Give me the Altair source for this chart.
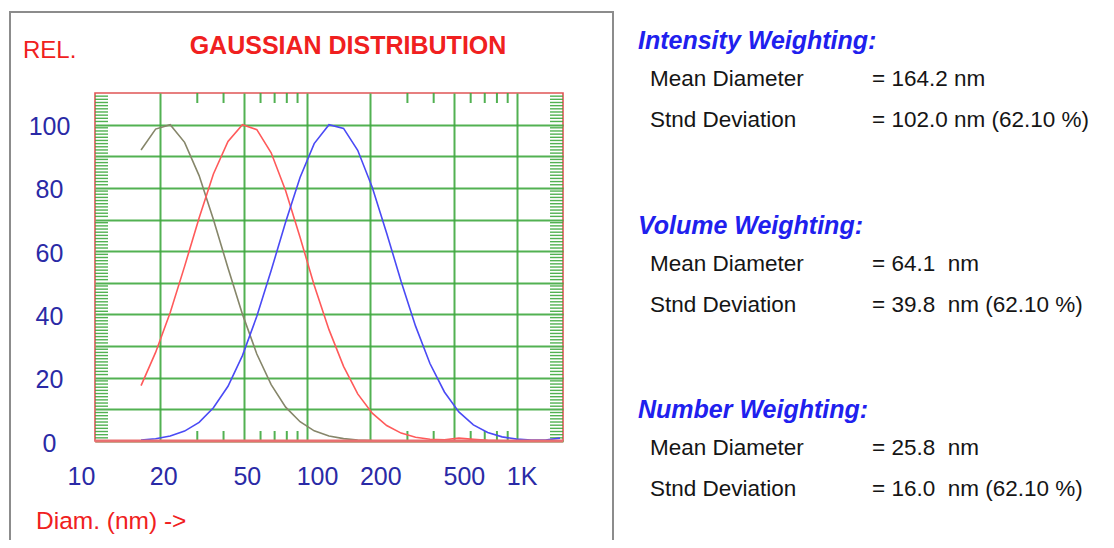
import altair as alt
import pandas as pd

# ---------------- data ----------------
diam_nm = [16.2, 19.0, 22.3, 26.1, 30.6, 35.8, 42.0, 49.2, 57.6, 67.4,
           79.0, 92.5, 108, 127, 149, 174, 204, 239, 280, 328,
           384, 450, 527, 618, 723, 847, 993, 1163, 1362, 1596]
number_rel = [92, 98.6, 100, 94.4, 83.9, 70.0, 54.7, 40.1, 27.5, 17.8,
              10.7, 6.1, 3.2, 1.6, 0.75, 0.33, 0.13, 0.05, 0.02, 0,
              0, 0, 0, 0, 0, 0, 0, 0, 0, 0]
volume_rel = [17.5, 28.0, 40.6, 55.2, 70.5, 84.4, 94.7, 100, 98.4, 91.1,
              79.1, 64.4, 49.2, 35.2, 23.6, 14.9, 8.8, 4.9, 2.5, 1.2,
              0.56, 0.4, 0.9, 0.5, 0.2, 0.1, 0, 0, 0, 0]
intensity_rel = [0.32, 0.73, 1.56, 3.13, 5.9, 10.5, 17.3, 27.0, 39.4, 53.9,
                 69.2, 83.3, 94.0, 100, 98.8, 91.9, 80.2, 65.7, 50.4, 36.3,
                 24.5, 15.5, 9.2, 5.1, 2.7, 1.3, 0.6, 0.3, 0.3, 0.9]
series_names = ["Number", "Volume", "Intensity"]

x_tick_values = [10, 20, 50, 100, 200, 500, 1000]
x_tick_labels = ["10", "20", "50", "100", "200", "500", "1K"]
x_minor_values = [30, 40, 60, 70, 80, 90, 300, 400, 600, 700, 800, 900]
y_grid_values = [0, 10, 20, 30, 40, 50, 60, 70, 80, 90, 100]
y_minor_values = [v for v in range(1, 110) if v % 10 != 0]

headings = ["Intensity Weighting:", "Volume Weighting:", "Number Weighting:"]
row_labels = ["Mean Diameter", "Stnd Deviation"]
mean_values = ["= 164.2 nm", "= 64.1\u00a0 nm", "= 25.8\u00a0 nm"]
sd_values = ["= 102.0 nm (62.10 %)", "= 39.8\u00a0 nm (62.10 %)", "= 16.0\u00a0 nm (62.10 %)"]

# ---------------- styles ----------------
FONT = "Liberation Sans, Arial, sans-serif"
GREEN = "#3fa83f"
RED = "#f02020"
AXBLUE = "#2a2aa6"
HEADBLUE = "#2020ee"
W, H = 468, 348

curves = pd.DataFrame({
    "diam": diam_nm * 3,
    "rel": number_rel + volume_rel + intensity_rel,
    "series": [series_names[0]] * len(diam_nm) + [series_names[1]] * len(diam_nm) + [series_names[2]] * len(diam_nm),
})

xscale = alt.Scale(type="log", domain=[9.78, 1650], nice=False)
yscale = alt.Scale(domain=[0, 110], nice=False)

label_expr = " : ".join(
    f"datum.value == {v} ? '{l}'" for v, l in zip(x_tick_values, x_tick_labels)
) + " : ''"

xaxis = alt.Axis(
    values=x_tick_values, labelExpr=label_expr, title=None, domain=False,
    ticks=False, tickSize=0, grid=True, gridColor=GREEN, gridWidth=2,
    gridOpacity={"condition": {"test": "datum.value == 10", "value": 0}, "value": 0.9},
    labelFont=FONT, labelFontSize=25, labelColor=AXBLUE, labelAlign="left",
    labelOffset={"condition": {"test": "datum.value == 10", "value": -30}, "value": -11},
    labelBaseline="alphabetic", labelPadding=43, labelFlush=False, labelOverlap=False,
)
yaxis = alt.Axis(
    values=y_grid_values, labelExpr="datum.value % 20 == 0 ? datum.label : ''",
    title=None, domain=False, ticks=False, tickSize=0, grid=True, gridColor=GREEN,
    gridWidth=2, gridOpacity=0.9, labelFont=FONT, labelFontSize=25, labelColor=AXBLUE,
    labelAlign="center", labelBaseline="middle", labelPadding=46, labelOffset=2,
    labelOverlap=False, labelFlush=False,
)

lines = alt.Chart(curves).mark_line(strokeWidth=1.6, clip=True).encode(
    x=alt.X("diam:Q", scale=xscale, axis=xaxis),
    y=alt.Y("rel:Q", scale=yscale, axis=yaxis),
    color=alt.Color("series:N", scale=alt.Scale(domain=series_names,
                    range=["#86866a", "#ff5a5a", "#4a4af5"]), legend=None),
    order="diam:Q",
)

xminor = pd.DataFrame({"diam": x_minor_values})
top_ticks = alt.Chart(xminor).mark_rule(color=GREEN, strokeWidth=2, opacity=0.9).encode(
    x=alt.X("diam:Q", scale=xscale, axis=xaxis), y=alt.value(0), y2=alt.value(10))
bot_ticks = alt.Chart(xminor).mark_rule(color=GREEN, strokeWidth=2, opacity=0.9).encode(
    x=alt.X("diam:Q", scale=xscale, axis=xaxis), y=alt.value(H - 10), y2=alt.value(H))

yminor = pd.DataFrame({"rel": y_minor_values})
left_ticks = alt.Chart(yminor).mark_rule(color=GREEN, strokeWidth=1.4, opacity=0.9).encode(
    y=alt.Y("rel:Q", scale=yscale, axis=yaxis), x=alt.value(0), x2=alt.value(13))
right_ticks = alt.Chart(yminor).mark_rule(color=GREEN, strokeWidth=1.4, opacity=0.9).encode(
    y=alt.Y("rel:Q", scale=yscale, axis=yaxis), x=alt.value(W - 13), x2=alt.value(W))

one = pd.DataFrame({"a": [0]})
bottom_edge = alt.Chart(one).mark_rule(color="#e87070", strokeWidth=3).encode(
    x=alt.value(0), x2=alt.value(W), y=alt.value(H))
outer_frame = alt.Chart(one).mark_rect(filled=False, stroke="#8c8c8c", strokeWidth=2).encode(
    x=alt.value(-85), x2=alt.value(518), y=alt.value(-81), y2=alt.value(470))


def txt(s, x, y, size, color, weight="normal", style="normal", align="left"):
    return alt.Chart(pd.DataFrame({"t": [s]})).mark_text(
        font=FONT, fontSize=size, color=color, fontWeight=weight, fontStyle=style,
        align=align, baseline="alphabetic",
    ).encode(text="t:N", x=alt.value(x), y=alt.value(y))


texts = [
    txt("GAUSSIAN DISTRIBUTION", 253, -39.5, 25, RED, weight="bold", align="center"),
    txt("REL.", -72, -35, 24, RED),
    txt("Diam. (nm) ->", -59, 436, 24.5, RED),
]
head_y = [-44, 141, 325]
for i in range(3):
    hy = head_y[i]
    texts.append(txt(headings[i], 543, hy, 25, HEADBLUE, weight="bold", style="italic"))
    texts.append(txt(row_labels[0], 555, hy + 37, 22.5, "#151515"))
    texts.append(txt(row_labels[1], 555, hy + 78, 22.5, "#151515"))
    texts.append(txt(mean_values[i], 777, hy + 37, 22.5, "#151515"))
    texts.append(txt(sd_values[i], 777, hy + 78, 22.5, "#151515"))

chart = alt.layer(
    outer_frame, left_ticks, right_ticks, top_ticks, bot_ticks, lines, bottom_edge, *texts
).properties(
    width=W, height=H,
    autosize=alt.AutoSizeParams(type="none"),
    padding={"left": 87, "top": 85, "right": 1098 - 87 - W, "bottom": 532 - 85 - H},
).configure_view(stroke="#e05555", strokeWidth=1.6)

chart.save("out.html", embed_options={"renderer": "svg", "actions": False})
